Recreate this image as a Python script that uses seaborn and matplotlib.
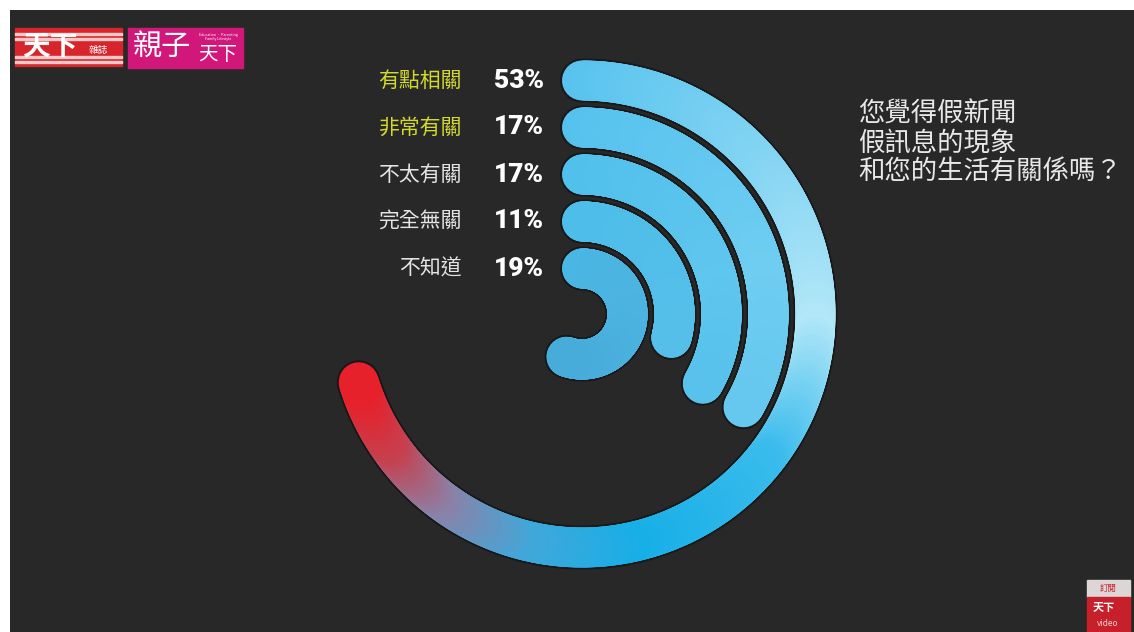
import numpy as np
import pandas as pd
import seaborn as sns
import matplotlib.pyplot as plt
from matplotlib.collections import LineCollection
from matplotlib.colors import LinearSegmentedColormap
from matplotlib.patches import Rectangle
from matplotlib.transforms import offset_copy

# survey: 您覺得假新聞假訊息的現象和您的生活有關係嗎？
categories = ['有點相關', '非常有關', '不太有關', '完全無關', '不知道']
pct_labels = ['53%', '17%', '17%', '11%', '19%']
# sweep of each ring as drawn in the source graphic (degrees, clockwise from top)
arc_deg = [253, 120, 120, 105, 200]
label_colors = ['#d3d82c', '#d3d82c', '#e4e4e4', '#e4e4e4', '#e4e4e4']
question = ['您覺得假新聞', '假訊息的現象', '和您的生活有關係嗎？']

# gradient stops along each ring (degree, colour)
ring_stops = [
    [(0, '#58c3ee'), (55, '#86d5f3'), (95, '#b2e7f8'), (130, '#3abbec'),
     (170, '#17afe7'), (198, '#42a7d9'), (220, '#8a82a8'), (238, '#c6404f'),
     (253, '#e6212b')],
    [(0, '#55c2ee'), (80, '#6fcdf1'), (120, '#66c8ef')],
    [(0, '#50c0ec'), (80, '#5fc6ee'), (120, '#58c2ec')],
    [(0, '#4dbde9'), (105, '#55bfea')],
    [(0, '#4ab6e3'), (100, '#4cb3e0'), (200, '#48acda')],
]

W, H = 1134, 632
cx, cy, half = 582, 314, 290
r_outer, r_step = 233.5, 47
ring_px = 40

sns.set_style('dark')
plt.rcParams['font.family'] = ['Noto Sans CJK TC', 'DejaVu Sans']

fig = plt.figure(figsize=(W / 100, H / 100), dpi=100, facecolor='white')

bg = fig.add_axes([10 / W, 0, (W - 10) / W, (H - 10) / H])
bg.set_facecolor('#282828')
bg.set_xticks([])
bg.set_yticks([])
for s in bg.spines.values():
    s.set_visible(False)

ax = fig.add_axes([(cx - half) / W, (H - cy - half) / H, 2 * half / W, 2 * half / H],
                  projection='polar')
ax.set_theta_zero_location('N')
ax.set_theta_direction(-1)
ax.set_ylim(0, half)
ax.axis('off')

radii = [r_outer - r_step * i for i in range(len(categories))]

rows = []
for i, (cat, sweep) in enumerate(zip(categories, arc_deg)):
    th = np.radians(np.linspace(0, sweep, 500))
    rows.append(pd.DataFrame({'theta': th, 'r': radii[i], 'ring': cat}))
arcs = pd.DataFrame(pd.concat(rows, ignore_index=True))

# dark halo under each ring
sns.lineplot(data=arcs, x='theta', y='r', units='ring', estimator=None,
             color='#181818', lw=(ring_px + 4) * 0.72, solid_capstyle='round',
             ax=ax, legend=False)

for i, cat in enumerate(categories):
    d = arcs[arcs['ring'] == cat]
    stops = ring_stops[i]
    cmap = LinearSegmentedColormap.from_list(
        cat, [(deg / arc_deg[i], c) for deg, c in stops])
    pts = np.column_stack([d['theta'].values, d['r'].values])
    segs = np.stack([pts[:-1], pts[1:]], axis=1)
    frac = np.linspace(0, 1, len(segs))
    lc = LineCollection(segs, colors=cmap(frac), linewidths=ring_px * 0.72,
                        capstyle='round')
    ax.add_collection(lc)

    lab_tr = offset_copy(ax.transData, fig=fig, x=-120, y=0, units='dots')
    ax.text(0, radii[i], cat, transform=lab_tr, ha='right', va='center',
            fontsize=15, color=label_colors[i])
    pct_tr = offset_copy(ax.transData, fig=fig, x=-88, y=0, units='dots')
    ax.text(0, radii[i], pct_labels[i], transform=pct_tr, ha='left', va='center',
            fontsize=19, fontweight='heavy', color='white',
            family=['Roboto', 'DejaVu Sans'])

for k, line in enumerate(question):
    fig.text(858 / W, 1 - [114, 143, 171][k] / H, line, ha='left', va='center',
             fontsize=19, color='#e8e8e8')

# logos
def px_rect(x0, y0, x1, y1, color):
    fig.patches.append(Rectangle((x0 / W, 1 - y1 / H), (x1 - x0) / W, (y1 - y0) / H,
                                 transform=fig.transFigure, color=color, zorder=5))

px_rect(15, 28, 122, 66, '#d8252b')
for yy in [33, 38, 56, 61]:
    px_rect(15, yy, 122, yy + 1.5, '#f2c8c8')
fig.text(50 / W, 1 - 47 / H, '天下', ha='center', va='center', fontsize=20,
         fontweight='bold', color='white', zorder=6)
fig.text(98 / W, 1 - 50 / H, '雜誌', ha='center', va='center', fontsize=7,
         color='white', zorder=6)

px_rect(128, 28, 243, 68, '#d1187a')
fig.text(162 / W, 1 - 48 / H, '親子', ha='center', va='center', fontsize=21,
         color='white', zorder=6)
fig.text(218 / W, 1 - 55 / H, '天下', ha='center', va='center', fontsize=14,
         color='white', zorder=6)
fig.text(218 / W, 1 - 37 / H, 'Education · Parenting\nFamily Lifestyle', ha='center',
         va='center', fontsize=2.6, color='white', zorder=6, linespacing=1.2)

px_rect(1087, 580, 1130, 597, '#ddd6d6')
px_rect(1087, 597, 1130, 632, '#c8202a')
fig.text(1108 / W, 1 - 588.5 / H, '訂閱', ha='center', va='center', fontsize=6,
         color='#c8202a', zorder=6)
fig.text(1104 / W, 1 - 608 / H, '天下', ha='center', va='center', fontsize=8,
         fontweight='bold', color='white', zorder=6)
fig.text(1108 / W, 1 - 623 / H, 'video', ha='center', va='center', fontsize=6,
         color='#f0d0d0', zorder=6)

fig.savefig('out.png', dpi=100, facecolor='white')
